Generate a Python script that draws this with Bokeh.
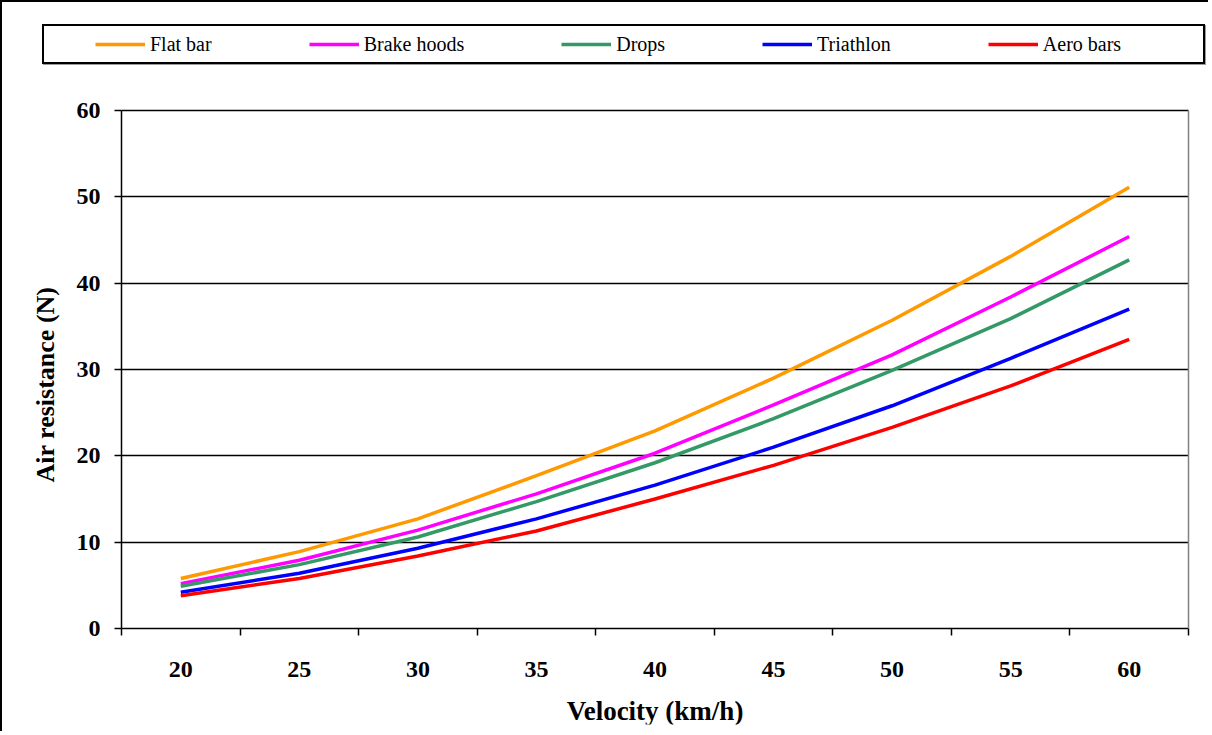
import math
from bokeh.plotting import figure
from bokeh.models import (Range1d, FixedTicker, Legend, LegendItem, InlineStyleSheet,
                          LinearAxis, Label)
from bokeh.embed import file_html
from bokeh.resources import INLINE

velocity = [20, 25, 30, 35, 40, 45, 50, 55, 60]
flat_bar = [5.8, 8.9, 12.7, 17.7, 22.9, 29.0, 35.7, 43.1, 51.1]
brake_hoods = [5.2, 7.9, 11.4, 15.6, 20.3, 25.9, 31.7, 38.4, 45.4]
drops = [4.9, 7.4, 10.6, 14.7, 19.2, 24.3, 29.9, 35.9, 42.7]
triathlon = [4.2, 6.4, 9.3, 12.7, 16.6, 21.0, 25.8, 31.3, 37.0]
aero_bars = [3.8, 5.8, 8.4, 11.3, 15.0, 18.9, 23.3, 28.1, 33.5]

series_names = ["Flat bar", "Brake hoods", "Drops", "Triathlon", "Aero bars"]
series_values = [flat_bar, brake_hoods, drops, triathlon, aero_bars]
series_colors = ["#FF9900", "#FF00FF", "#339966", "#0000FF", "#FF0000"]

y_ticks = [0, 10, 20, 30, 40, 50, 60]
x_tick_labels = {v: str(v) for v in velocity}
x_bounds = [17.5, 22.5, 27.5, 32.5, 37.5, 42.5, 47.5, 52.5, 57.5, 62.5]
x_title = "Velocity (km/h)"
y_title = "Air resistance (N)"

SERIF = "Liberation Serif"

# ---- geometry (page px). The frame covers almost the whole canvas so that the
# legend and titles are inside it; axes and grid are bounded to the plot area.
W, H = 1208, 731
BORDER = 2
FL, FR, FT, FB = 12, 1200, 12, 724          # frame edges, page px
PL, PR, PT, PB = 121, 1188, 110, 628        # plot area, page px
x0, x1 = x_bounds[0], x_bounds[-1]
y0, y1 = y_ticks[0], y_ticks[-1]
xs = (PR - PL) / (x1 - x0)
ys = (PB - PT) / (y1 - y0)
def xv(px):
    return x0 + (px - PL) / xs
def yv(py):
    return y0 + (PB - py) / ys

p = figure(width=W, height=H, output_backend="svg", toolbar_location=None,
           x_range=Range1d(xv(FL), xv(FR)), y_range=Range1d(yv(FB), yv(FT)),
           min_border_left=FL - BORDER, min_border_right=W - (FR - BORDER),
           min_border_top=FT - BORDER, min_border_bottom=H - (FB - BORDER))
p.styles = {"border-left": "2px solid black", "border-top": "2px solid black"}
p.stylesheets = [InlineStyleSheet(css="""
:host { position: relative; }
:host::after {
  content: '';
  position: absolute;
  left: 40px; top: 22px; width: 1163px; height: 40px;
  box-sizing: border-box;
  border: 2px solid black;
  box-shadow: 1px 1px 0px #9a9a9a;
  pointer-events: none;
  z-index: 10;
}
""")]
p.outline_line_color = None
p.background_fill_color = "white"
p.border_fill_color = "white"

# x axis (category style: labels centred, ticks between categories)
xa = p.xaxis[0]
xa.fixed_location = y0
xa.bounds = (x0, x1)
xa.ticker = FixedTicker(ticks=velocity, minor_ticks=x_bounds)
xa.major_label_overrides = x_tick_labels
xa.major_tick_line_color = None
xa.major_tick_out = 7
xa.minor_tick_out = 7
xa.minor_tick_in = 0
xa.minor_tick_line_color = "black"
xa.minor_tick_line_width = 1.5
xa.axis_line_color = "black"
xa.axis_line_width = 1.5
xa.major_label_standoff = 26
xa.major_label_text_font = SERIF
xa.major_label_text_font_size = "24px"
xa.major_label_text_font_style = "bold"
xa.major_label_text_color = "black"

ya = p.yaxis[0]
ya.fixed_location = x0
ya.bounds = (y0, y1)
ya.ticker = FixedTicker(ticks=y_ticks, minor_ticks=[])
ya.major_tick_out = 7
ya.major_tick_in = 0
ya.major_tick_line_color = "black"
ya.major_tick_line_width = 1.5
ya.axis_line_color = "black"
ya.axis_line_width = 1.5
ya.major_label_standoff = 14
ya.major_label_text_font = SERIF
ya.major_label_text_font_size = "24px"
ya.major_label_text_font_style = "bold"
ya.major_label_text_color = "black"

# right border of the plot area
ra = LinearAxis(ticker=FixedTicker(ticks=[], minor_ticks=[]), bounds=(y0, y1),
                fixed_location=x1,
                axis_line_color="#808080", axis_line_width=1.5,
                major_tick_line_color=None, minor_tick_line_color=None)
p.add_layout(ra, "right")

p.xgrid.grid_line_color = None
p.ygrid.ticker = FixedTicker(ticks=y_ticks[1:])
p.ygrid.cross_bounds = (x0, x1)
p.ygrid.grid_line_color = "black"
p.ygrid.grid_line_width = 1.5

# axis titles
p.add_layout(Label(x=(x0 + x1) / 2, y=yv(710), text=x_title,
                   text_align="center", text_baseline="middle",
                   text_font=SERIF, text_font_size="27px", text_font_style="bold",
                   text_color="black"))
p.add_layout(Label(x=xv(45), y=yv(384), text=y_title, angle=math.pi / 2,
                   text_align="center", text_baseline="middle",
                   text_font=SERIF, text_font_size="26px", text_font_style="bold",
                   text_color="black"))

items = []
for name, vals, col in zip(series_names, series_values, series_colors):
    r = p.line(velocity, vals, line_color=col, line_width=3.5)
    items.append(LegendItem(label=name, renderers=[r]))

legend = Legend(items=items, orientation="horizontal",
                location=(95 - FL, FB - 56),
                spacing=97, padding=0, margin=0, glyph_width=50, glyph_height=24,
                label_height=24, label_standoff=5,
                label_text_font=SERIF, label_text_font_size="20px",
                label_text_color="black",
                border_line_alpha=0, background_fill_alpha=0)
p.add_layout(legend, "center")

open("out.html", "w").write(file_html(p, INLINE))
